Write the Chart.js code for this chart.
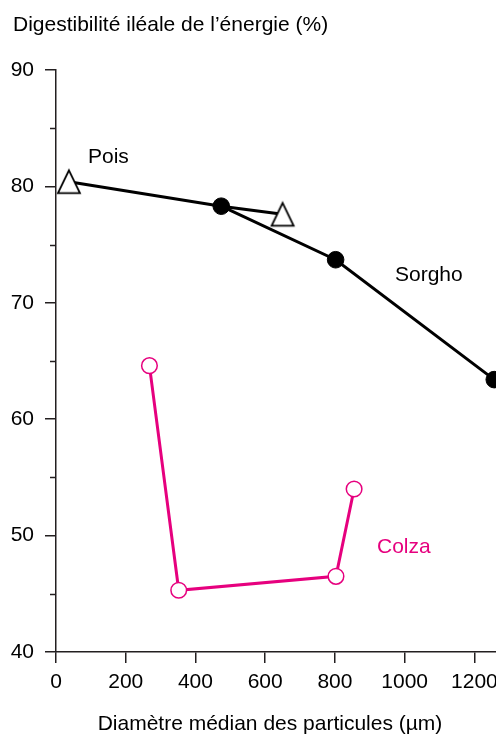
<!DOCTYPE html>
<html>
<head>
<meta charset="utf-8">
<script src="https://cdn.jsdelivr.net/npm/chart.js@4/dist/chart.umd.min.js"></script>
<style>
  html, body { margin: 0; padding: 0; background: #fff; }
  canvas { display: block; }
</style>
</head>
<body>
<canvas id="c" width="496" height="737"></canvas>
<script>
// ---- data ----
const poisX = [37, 474, 650];
const poisY = [80.4, 78.3, 77.6];
const sorghoX = [474, 802, 1257];
const sorghoY = [78.3, 73.7, 63.4];
const colzaX = [268, 352, 803, 855];
const colzaY = [64.6, 45.3, 46.5, 54.0];
const xTicks = [0, 200, 400, 600, 800, 1000, 1200];
const yTicks = [40, 50, 60, 70, 80, 90];
const yMinorTicks = [45, 55, 65, 75, 85];
const seriesNames = ['Pois', 'Sorgho', 'Colza'];
const yTitle = 'Digestibilité iléale de l\u2019énergie (%)';
const xTitle = 'Diamètre médian des particules (\u00B5m)';

const FONT = '"Liberation Sans", Arial, Helvetica, sans-serif';
const AXIS = '#231f20';
const MAGENTA = '#e6007e';

function pts(xs, ys) { return xs.map((x, i) => ({ x: x, y: ys[i] })); }

// open triangle marker
const tri = document.createElement('canvas');
tri.width = 28; tri.height = 28;
(function () {
  const t = tri.getContext('2d');
  t.beginPath();
  t.moveTo(14, 2.6);
  t.lineTo(25.0, 25.3);
  t.lineTo(3.0, 25.3);
  t.closePath();
  t.fillStyle = '#fff';
  t.fill();
  t.lineWidth = 1.8;
  t.strokeStyle = '#000';
  t.lineJoin = 'miter';
  t.stroke();
})();

const textPlugin = {
  id: 'texts',
  afterDraw(chart) {
    const ctx = chart.ctx;
    ctx.save();
    ctx.font = '21px ' + FONT;
    ctx.textBaseline = 'alphabetic';
    ctx.textAlign = 'left';
    ctx.fillStyle = '#000';
    ctx.fillText(yTitle, 13, 31);
    ctx.textAlign = 'center';
    ctx.fillText(xTitle, 270, 730);
    ctx.textAlign = 'left';
    ctx.fillText(seriesNames[0], 88, 163);
    ctx.fillText(seriesNames[1], 395, 281);
    ctx.fillStyle = MAGENTA;
    ctx.fillText(seriesNames[2], 377, 553);
    // minor y ticks
    const y = chart.scales.y;
    ctx.strokeStyle = AXIS;
    ctx.lineWidth = 1.5;
    yMinorTicks.forEach(v => {
      const py = Math.round(y.getPixelForValue(v)) + 0.5;
      ctx.beginPath();
      ctx.moveTo(y.right - 6, py);
      ctx.lineTo(y.right, py);
      ctx.stroke();
    });
    ctx.restore();
  }
};

new Chart(document.getElementById('c'), {
  type: 'scatter',
  data: {
    datasets: [
      {
        label: seriesNames[0],
        data: pts(poisX, poisY),
        showLine: true,
        borderColor: '#000',
        borderWidth: 3,
        pointStyle: tri,
        pointRadius: [12, 0, 12],
        pointHoverRadius: [12, 0, 12],
        clip: false
      },
      {
        label: seriesNames[1],
        data: pts(sorghoX, sorghoY),
        showLine: true,
        borderColor: '#000',
        borderWidth: 3,
        pointStyle: 'circle',
        pointRadius: 8.3,
        pointBackgroundColor: '#000',
        pointBorderColor: '#000',
        pointBorderWidth: 1,
        clip: false
      },
      {
        label: seriesNames[2],
        data: pts(colzaX, colzaY),
        showLine: true,
        borderColor: MAGENTA,
        borderWidth: 3,
        pointStyle: 'circle',
        pointRadius: 7.8,
        pointBackgroundColor: '#fff',
        pointBorderColor: MAGENTA,
        pointBorderWidth: 1.5,
        clip: false
      }
    ]
  },
  options: {
    responsive: false,
    animation: false,
    events: [],
    layout: { autoPadding: false, padding: { top: 70, left: 0, right: 0, bottom: 0 } },
    plugins: { legend: { display: false }, tooltip: { enabled: false }, title: { display: false } },
    scales: {
      x: {
        type: 'linear',
        min: 0,
        max: 1262,
        afterBuildTicks(s) { s.ticks = xTicks.map(v => ({ value: v })); },
        afterFit(s) { s.height = 85; s.paddingLeft = 0; s.paddingRight = 0; },
        grid: { drawOnChartArea: false, drawTicks: true, tickLength: 11, color: AXIS, lineWidth: 1.5 },
        border: { display: true, color: AXIS, width: 1.5 },
        ticks: { color: '#000', font: { family: FONT, size: 21 }, padding: 7, maxRotation: 0, autoSkip: false,
                 callback: v => String(v) }
      },
      y: {
        type: 'linear',
        min: 40,
        max: 90,
        afterBuildTicks(s) { s.ticks = yTicks.map(v => ({ value: v })); },
        afterFit(s) { s.width = 56; s.paddingTop = 0; s.paddingBottom = 0; },
        grid: { drawOnChartArea: false, drawTicks: true, tickLength: 11, color: AXIS, lineWidth: 1.5 },
        border: { display: true, color: AXIS, width: 1.5 },
        ticks: { color: '#000', font: { family: FONT, size: 21 }, padding: 11, autoSkip: false,
                 callback: v => String(v) }
      }
    }
  },
  plugins: [textPlugin]
});
</script>
</body>
</html>
